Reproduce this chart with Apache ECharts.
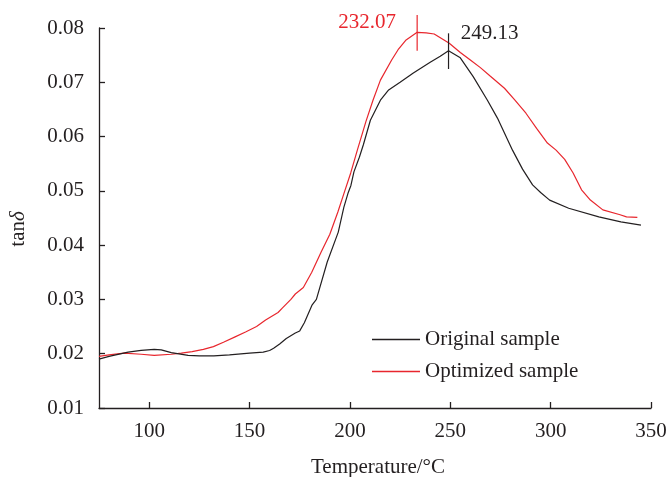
<!DOCTYPE html>
<html><head><meta charset="utf-8">
<script src="https://cdn.jsdelivr.net/npm/echarts@6/dist/echarts.min.js"></script>
<style>html,body{margin:0;padding:0;background:#fff}#c{width:669px;height:477px}</style>
</head><body><div id="c"></div>
<script>
var xTicks = [100, 150, 200, 250, 300, 350];
var blackT = [75, 80, 89.5, 96, 102.5, 106, 111, 119.4, 125, 132.2, 140, 150, 156.8, 160, 162, 165, 168.3, 172.8, 175, 177.3, 181.2, 183.3, 188.7, 194.2, 197, 199, 200.5, 202, 204.7, 206.7, 210.2, 215.2, 219.3, 225, 231.6, 240, 245, 249.13, 255, 261.5, 268.5, 273.5, 281, 286, 291, 295, 299.5, 309, 324, 335, 345];
var blackV = [0.0190, 0.0195, 0.0203, 0.0206, 0.0208, 0.0207, 0.0202, 0.0197, 0.0196, 0.0196, 0.0198, 0.0201, 0.0203, 0.0206, 0.0210, 0.0218, 0.0228, 0.0238, 0.0242, 0.0257, 0.0290, 0.0300, 0.0369, 0.0424, 0.0470, 0.0495, 0.0510, 0.0535, 0.0562, 0.0585, 0.0630, 0.0667, 0.0686, 0.0700, 0.0717, 0.0737, 0.0748, 0.0758, 0.0745, 0.0710, 0.0667, 0.0634, 0.0575, 0.0540, 0.0511, 0.0497, 0.0483, 0.0468, 0.0452, 0.0443, 0.0437];
var redT = [75, 80, 87.5, 96, 102.5, 111, 116, 121.4, 127, 132, 137, 142.8, 148, 153.5, 158, 164.2, 166.3, 170.6, 172.8, 176.8, 181, 185.5, 190, 194, 197, 200.4, 203.7, 208, 211.5, 215.2, 220.8, 224, 228, 233.5, 238, 242, 249.5, 255, 260, 265, 270, 277, 282, 287.7, 293, 298.4, 302.7, 307, 311.2, 315.4, 319.8, 326, 334.6, 337.8, 343.2];
var redV = [0.0195, 0.0198, 0.0201, 0.0199, 0.0197, 0.0199, 0.0201, 0.0204, 0.0208, 0.0213, 0.0221, 0.0231, 0.0240, 0.0250, 0.0262, 0.0276, 0.0284, 0.0300, 0.0310, 0.0322, 0.0350, 0.0386, 0.0420, 0.0461, 0.0495, 0.0533, 0.0575, 0.0628, 0.0667, 0.0704, 0.0741, 0.0760, 0.0778, 0.0792, 0.0791, 0.0789, 0.0772, 0.0755, 0.0741, 0.0727, 0.0711, 0.0689, 0.0668, 0.0643, 0.0615, 0.0588, 0.0575, 0.0558, 0.0533, 0.0502, 0.0483, 0.0465, 0.0456, 0.0452, 0.0451];
var seriesNames = ['Original sample', 'Optimized sample'];
var peakLabels = ['249.13', '232.07'];
var peakT = [249.13, 233.5];
var peakV = [0.0758, 0.0792];
var markLow = [0.07245, 0.07582];
var markHigh = [0.07902, 0.08239];

var BLACK = '#231f20', RED = '#e8262d', FONT = 'Liberation Serif', FS = 21;
function zip(a, b) { return a.map(function (v, i) { return [v, b[i]]; }); }
function marker(i, color, off) {
  return {
    type: 'line', symbol: 'none', clip: false, silent: true, legendHoverLink: false,
    data: [[peakT[i], markLow[i]], [peakT[i], markHigh[i]]],
    lineStyle: { color: color, width: 1.2 }, z: 4,
    markPoint: {
      silent: true, symbol: 'circle', symbolSize: 0, animation: false,
      label: { show: true, formatter: peakLabels[i], color: color, fontFamily: FONT, fontSize: FS, offset: off },
      data: [{ coord: [peakT[i], peakV[i]] }]
    }
  };
}
var chart = echarts.init(document.getElementById('c'), null, { renderer: 'canvas' });
chart.setOption({
  animation: false,
  backgroundColor: '#fff',
  grid: { left: 99, right: 18, top: 28, bottom: 69, containLabel: false, outerBoundsMode: 'none' },
  legend: {
    data: seriesNames, orient: 'vertical', left: 367, top: 324,
    icon: 'rect', itemWidth: 48, itemHeight: 1.5, itemGap: 11,
    textStyle: { color: BLACK, fontFamily: FONT, fontSize: FS, lineHeight: 21 }
  },
  xAxis: {
    type: 'value', min: 75, max: 350,
    name: 'Temperature/°C', nameLocation: 'middle', nameGap: 49,
    nameTextStyle: { color: BLACK, fontFamily: FONT, fontSize: FS, padding: [0, 0, 0, 6] },
    axisLine: { lineStyle: { color: BLACK, width: 1.3 } },
    axisTick: { inside: true, length: 6, customValues: xTicks, lineStyle: { color: BLACK, width: 1.3 } },
    axisLabel: { customValues: xTicks, color: BLACK, fontFamily: FONT, fontSize: FS, margin: 13 },
    splitLine: { show: false }
  },
  yAxis: {
    type: 'value', min: 0.01, max: 0.08, interval: 0.01,
    name: '{a|tan}{b|δ}', nameLocation: 'middle', nameGap: 70, nameRotate: 90,
    nameTextStyle: { color: BLACK, fontFamily: FONT, fontSize: FS, padding: [0, 22, 0, 0],
      rich: { a: { fontFamily: FONT, fontSize: FS, color: BLACK }, b: { fontFamily: FONT, fontSize: FS, fontStyle: 'italic', color: BLACK } } },
    axisLine: { show: true, lineStyle: { color: BLACK, width: 1.3 } },
    axisTick: { show: true, inside: true, length: 6, lineStyle: { color: BLACK, width: 1.3 } },
    axisLabel: { color: BLACK, fontFamily: FONT, fontSize: FS, margin: 15, formatter: function (v) { return v.toFixed(2); } },
    splitLine: { show: false }
  },
  series: [
    { name: seriesNames[0], type: 'line', data: zip(blackT, blackV), symbol: 'none', clip: false,
      lineStyle: { color: BLACK, width: 1.2 }, itemStyle: { color: BLACK }, z: 3 },
    { name: seriesNames[1], type: 'line', data: zip(redT, redV), symbol: 'none', clip: false,
      lineStyle: { color: RED, width: 1.2 }, itemStyle: { color: RED }, z: 2 },
    marker(0, BLACK, [41, -17]),
    marker(1, RED, [-50, -10])
  ]
});
</script></body></html>
